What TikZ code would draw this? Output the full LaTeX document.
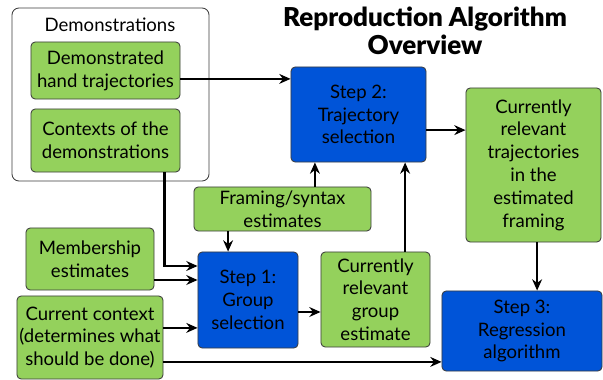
\documentclass[tikz,border=0pt]{standalone}
\usepackage{fontspec}
\setmainfont{Lato}
\newfontfamily\titlefont{Lato Black}
\usetikzlibrary{arrows.meta}

\definecolor{boxgreen}{RGB}{148,209,92}
\definecolor{stepblue}{RGB}{0,84,216}
\definecolor{edgegray}{RGB}{60,60,60}

\begin{document}
\begin{tikzpicture}[x=0.025cm, y=-0.025cm,
  every node/.style={font=\fontsize{13.2}{16.2}\selectfont, align=center, inner sep=1pt},
  greenbox/.style={draw=edgegray, fill=boxgreen, rounded corners=3pt, line width=0.6pt},
  stepbox/.style={draw=edgegray, fill=stepblue, rounded corners=3pt, line width=0.6pt},
  arr/.style={-{Stealth[length=8pt, width=7pt]}, line width=1.8pt}]
\useasboundingbox (0,0) rectangle (603,380);

% Title
\node[font=\fontsize{18.5}{19.5}\titlefont] (title) at (425,31) {Reproduction Algorithm\\Overview};

% Demonstrations group
\node[draw=edgegray, fill=white, rounded corners=5pt, line width=0.6pt, minimum width=4.925cm, minimum height=4.325cm] (demos) at (110.5,94.5) {};
\node (demoslabel) at (110,25) {Demonstrations};
\node[greenbox, minimum width=3.725cm, minimum height=1.425cm] (dht) at (105.5,70.5) {Demonstrated\\hand trajectories};
\node[greenbox, minimum width=3.725cm, minimum height=1.575cm] (ctx) at (105.5,140.5) {Contexts of the\\demonstrations};

% Inputs
\node[greenbox, minimum width=4.425cm, minimum height=1.1cm] (frame) at (282.5,209) {Framing/syntax\\estimates};
\node[greenbox, minimum width=3.2cm, minimum height=1.55cm] (memb) at (90,259) {Membership\\estimates};
\node[greenbox, minimum width=3.65cm, minimum height=2.075cm] (cur) at (90,337.5) {Current context\\(determines what\\should be done)};

% Steps
\node[stepbox, minimum width=2.5cm, minimum height=2.4cm] (step1) at (248,300) {Step 1:\\Group\\selection};
\node[stepbox, minimum width=3.375cm, minimum height=2.375cm] (step2) at (358.5,114.5) {Step 2:\\Trajectory\\selection};
\node[stepbox, minimum width=4cm, minimum height=2cm] (step3) at (522,331) {Step 3:\\Regression\\algorithm};

% Intermediate results
\node[greenbox, minimum width=2.725cm, minimum height=2.375cm] (group) at (375.5,299.5) {Currently\\relevant\\group\\estimate};
\node[greenbox, minimum width=3.375cm, minimum height=3.85cm] (traj) at (533.5,165) {Currently\\relevant\\trajectories\\in the\\estimated\\framing};

% Arrows
\draw[arr] ([yshift=-0.21cm]dht.east) coordinate (a1) -- (a1 -| step2.west);
\draw[arr] ([xshift=-0.4cm]ctx.south east) |- ([yshift=0.85cm]step1.west);
\draw[arr] ([xshift=-1.36cm]frame.south) coordinate (a2) -- (a2 |- step1.north);
\draw[arr] ([xshift=0.81cm]frame.north) coordinate (a3) -- (a3 |- step2.south);
\draw[arr] ([yshift=-0.525cm]memb.east) coordinate (a4) -- (a4 -| step1.west);
\draw[arr] ([yshift=0.24cm]cur.east) coordinate (a5) -- (a5 -| step1.west);
\draw[arr] ([yshift=-0.61cm]cur.east) coordinate (a6) -- (a6 -| step3.west);
\draw[arr] ([yshift=-0.3cm]step1.east) coordinate (a7) -- (a7 -| group.west);
\draw[arr] ([xshift=0.74cm]group.north) coordinate (a8) -- (a8 |- step2.south);
\draw[arr] ([yshift=-0.39cm]step2.east) coordinate (a9) -- (a9 -| traj.west);
\draw[arr] ([xshift=0.09cm]traj.south) coordinate (a10) -- (a10 |- step3.north);

\end{tikzpicture}
\end{document}
